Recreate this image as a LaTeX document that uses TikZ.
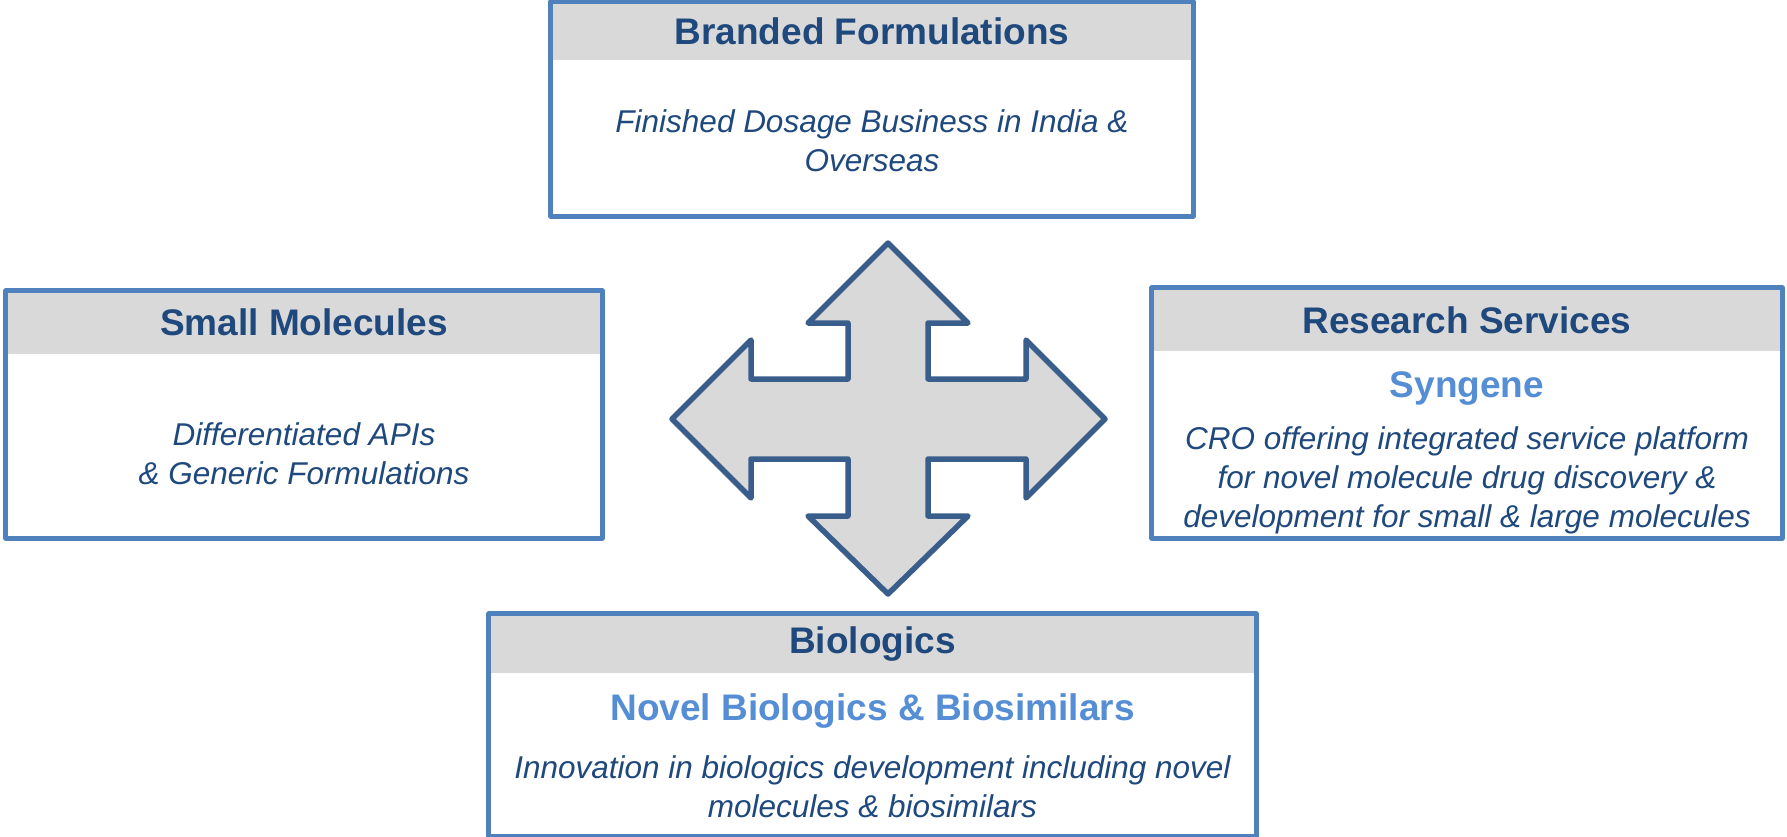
\documentclass[tikz,border=0pt]{standalone}
\usepackage{fontspec}
\setmainfont{Liberation Sans}
\usetikzlibrary{positioning}

\definecolor{rimblue}{HTML}{4F81BD}
\definecolor{inkblue}{HTML}{1F497D}
\definecolor{lightblue}{HTML}{558ED5}
\definecolor{headgray}{HTML}{D9D9D9}
\definecolor{crossline}{HTML}{3A5E8C}

\tikzset{
    panel/.style={fill=white, inner sep=0pt},
    rim/.style={draw=rimblue, line width=5pt, line join=round},
    title/.style={font=\fontsize{37}{44}\selectfont\bfseries, text=inkblue},
    brand/.style={font=\fontsize{37}{44}\selectfont\bfseries, text=lightblue},
    body/.style={align=center, font=\fontsize{31.5}{39}\selectfont\itshape, text=inkblue},
    cross/.style={fill=headgray, draw=crossline, line width=5.5pt, line join=round}
}

\begin{document}
\begin{tikzpicture}[x=1pt, y=-1pt]

        \useasboundingbox (0, 0) rectangle (1787, 837);

        % panels
        \node[panel, minimum width=642pt, minimum height=214pt] (bf) at (872, 109) { };
        \node[panel, minimum width=596pt, minimum height=247pt] (sm) at (304, 414.5) { };
        \node[panel, minimum width=630pt, minimum height=250pt] (rs) at (1467, 413) { };
        \node[panel, minimum width=767pt, minimum height=222pt] (bio) at (872.5, 725) { };

        \fill[headgray] (bf.north west) rectangle ([yshift=-58pt]bf.north east);
        \fill[headgray] (sm.north west) rectangle ([yshift=-63pt]sm.north east);
        \fill[headgray] (rs.north west) rectangle ([yshift=-63pt]rs.north east);
        \fill[headgray] (bio.north west) rectangle ([yshift=-59pt]bio.north east);

        \draw[rim] (bf.north west) rectangle (bf.south east);
        \draw[rim] (sm.north west) rectangle (sm.south east);
        \draw[rim] (rs.north west) rectangle (rs.south east);
        \draw[rim] (bio.north west) rectangle (bio.south east);

        % headers
        \node[title] (bfTitle) at ([yshift=-29pt]bf.north) {Branded Formulations};
        \node[title] (smTitle) at ([yshift=-31pt]sm.north) {Small Molecules};
        \node[title] (rsTitle) at ([yshift=-32pt]rs.north) {Research Services};
        \node[title] (bioTitle) at ([yshift=-30pt]bio.north) {Biologics};

        % texts
        \node[body] (bfText) at (872, 141) {Finished Dosage Business in India \&\\Overseas};
        \node[body] (smText) at (304, 454) {Differentiated APIs\\\& Generic Formulations};
        \node[brand] (rsBrand) at (1467, 388) {Syngene};
        \node[body] (rsText) at (1467, 480) {CRO offering integrated service platform\\for novel molecule drug discovery \&\\development for small \& large molecules};
        \node[brand] (bioBrand) at (872.5, 711) {Novel Biologics \& Biosimilars};
        \node[body] (bioText) at (872.5, 787) {Innovation in biologics development including novel\\molecules \& biosimilars};

        % four-way arrow
        \begin{scope}[shift={(888, 419)}]
            \draw[cross] (0, -176) -- (80, -96) -- (40, -96) -- (40, -40) -- (138, -40) -- (138, -79)
                -- (217, 0) -- (138, 79) -- (138, 40) -- (40, 40) -- (40, 97) -- (80, 97)
                -- (0, 175) -- (-80, 97) -- (-40, 97) -- (-40, 40) -- (-137, 40) -- (-137, 79)
                -- (-216, 0) -- (-137, -79) -- (-137, -40) -- (-40, -40) -- (-40, -96) -- (-80, -96) -- cycle;
        \end{scope}

    \end{tikzpicture}
\end{document}
